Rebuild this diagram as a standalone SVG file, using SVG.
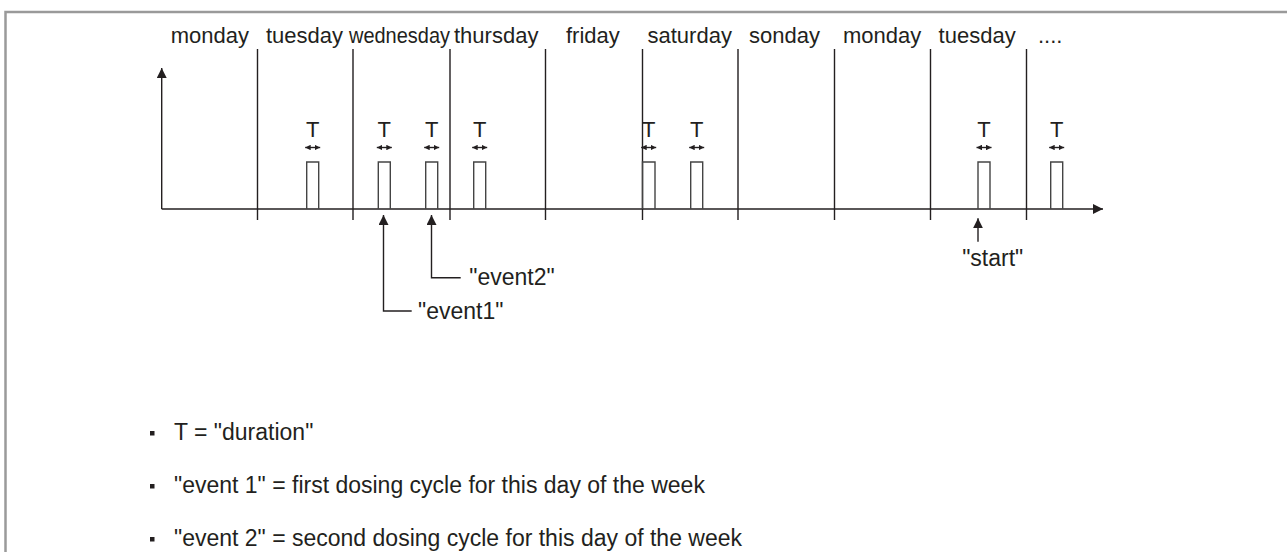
<svg xmlns="http://www.w3.org/2000/svg" width="1287" height="552" viewBox="0 0 1287 552">
<style>
text{font-family:"Liberation Sans",Arial,sans-serif;fill:#231f20}
.day{font-size:22px}
.t{font-size:22px;text-anchor:middle}
.lbl{font-size:23px}
.note{font-size:23px}
.ln{stroke:#231f20;stroke-width:1.4;fill:none}
.pulse{stroke:#444;stroke-width:1.4;fill:none}
.frame{stroke:#9a9a9a;stroke-width:2.5;fill:none}
</style>
<defs>
<marker id="ah" viewBox="0 0 10 10" refX="10" refY="5" markerWidth="10" markerHeight="10" markerUnits="userSpaceOnUse" orient="auto"><path d="M0,0 L10,5 L0,10 z" fill="#231f20"/></marker>
<marker id="sm" viewBox="0 0 6 6" refX="6" refY="3" markerWidth="5.5" markerHeight="5.5" markerUnits="userSpaceOnUse" orient="auto-start-reverse"><path d="M0,0 L6,3 L0,6 z" fill="#231f20"/></marker>
</defs>
<g id="frame"><path class="frame" d="M5.5,552 L5.5,12 L1287,12"/></g>
<g id="days">
<text class="day" x="170.7" y="43">monday</text>
<text class="day" x="266" y="43">tuesday</text>
<text class="day" x="349" y="43" textLength="101" lengthAdjust="spacingAndGlyphs">wednesday</text>
<text class="day" x="454" y="43">thursday</text>
<text class="day" x="566" y="43">friday</text>
<text class="day" x="647.5" y="43">saturday</text>
<text class="day" x="749" y="43">sonday</text>
<text class="day" x="843" y="43">monday</text>
<text class="day" x="938.6" y="43">tuesday</text>
<text class="day" x="1038" y="43">....</text>
</g>
<g id="dividers" class="ln">
<path d="M257.5,49 V220 M353,49 V220 M450,49 V220 M545.5,49 V220 M642.5,49 V220 M738,49 V220 M834.5,49 V220 M930.5,49 V220 M1026.5,49 V220"/>
</g>
<g id="axes">
<path class="ln" d="M161.7,209 V68" marker-end="url(#ah)"/>
<path class="ln" d="M161.7,209 H1103" marker-end="url(#ah)"/>
</g>
<g id="pulse1"><path class="pulse" d="M306.7,209 V162 H318.7 V209"/><text class="t" x="312.7" y="136.5">T</text><path class="ln" d="M305.2,147.5 H320.2" marker-start="url(#sm)" marker-end="url(#sm)"/></g>
<g id="pulse2"><path class="pulse" d="M378.3,209 V162 H390.3 V209"/><text class="t" x="384.3" y="136.5">T</text><path class="ln" d="M376.8,147.5 H391.8" marker-start="url(#sm)" marker-end="url(#sm)"/></g>
<g id="pulse3"><path class="pulse" d="M425.7,209 V162 H437.7 V209"/><text class="t" x="431.7" y="136.5">T</text><path class="ln" d="M424.2,147.5 H439.2" marker-start="url(#sm)" marker-end="url(#sm)"/></g>
<g id="pulse4"><path class="pulse" d="M473.7,209 V162 H485.7 V209"/><text class="t" x="479.7" y="136.5">T</text><path class="ln" d="M472.2,147.5 H487.2" marker-start="url(#sm)" marker-end="url(#sm)"/></g>
<g id="pulse5"><path class="pulse" d="M642.5,209 V162 H655 V209"/><text class="t" x="648.7" y="136.5">T</text><path class="ln" d="M641.2,147.5 H656.2" marker-start="url(#sm)" marker-end="url(#sm)"/></g>
<g id="pulse6"><path class="pulse" d="M690.7,209 V162 H702.7 V209"/><text class="t" x="696.7" y="136.5">T</text><path class="ln" d="M689.2,147.5 H704.2" marker-start="url(#sm)" marker-end="url(#sm)"/></g>
<g id="pulse7"><path class="pulse" d="M978,209 V162 H990 V209"/><text class="t" x="984" y="136.5">T</text><path class="ln" d="M976.5,147.5 H991.5" marker-start="url(#sm)" marker-end="url(#sm)"/></g>
<g id="pulse8"><path class="pulse" d="M1050.7,209 V162 H1062.7 V209"/><text class="t" x="1056.7" y="136.5">T</text><path class="ln" d="M1049.2,147.5 H1064.2" marker-start="url(#sm)" marker-end="url(#sm)"/></g>
<g id="connectors">
<path class="ln" d="M411.7,311 H383.5 V215" marker-end="url(#ah)"/>
<path class="ln" d="M460.7,277.7 H431.5 V215" marker-end="url(#ah)"/>
<path class="ln" d="M978,241.7 V218.3" marker-end="url(#ah)"/>
</g>
<g id="event1"><text class="lbl" x="418" y="319">"event1"</text></g>
<g id="event2"><text class="lbl" x="469.3" y="285">"event2"</text></g>
<g id="start"><text class="lbl" x="992.7" y="266" text-anchor="middle">"start"</text></g>
<g id="notes">
<rect x="150" y="431" width="4.5" height="4.5" fill="#231f20"/>
<text class="note" x="174" y="440">T = "duration"</text>
<rect x="150" y="484" width="4.5" height="4.5" fill="#231f20"/>
<text class="note" x="174" y="493">"event 1" = first dosing cycle for this day of the week</text>
<rect x="150" y="537" width="4.5" height="4.5" fill="#231f20"/>
<text class="note" x="174" y="546">"event 2" = second dosing cycle for this day of the week</text>
</g>
</svg>
